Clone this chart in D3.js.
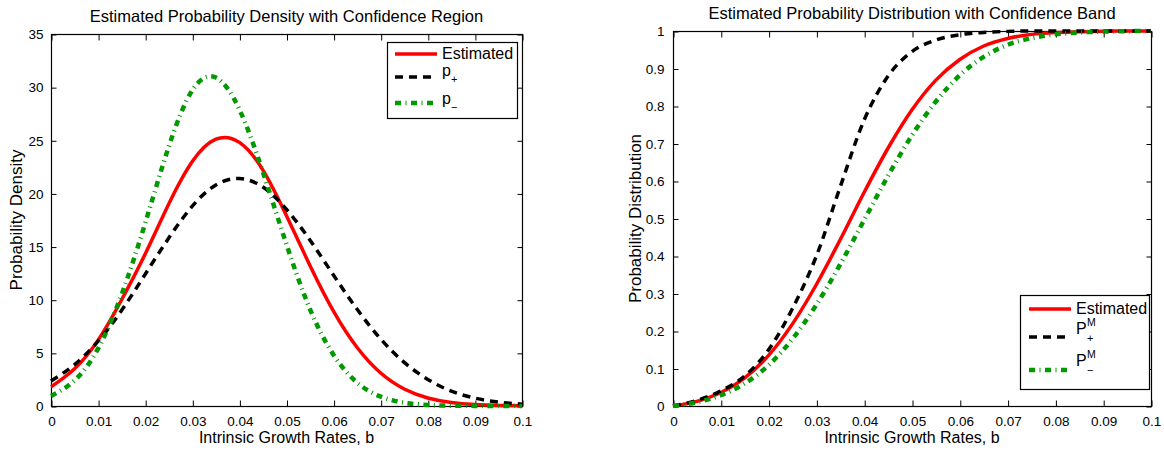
<!DOCTYPE html>
<html>
<head>
<meta charset="utf-8">
<script src="https://cdn.jsdelivr.net/npm/d3@7"></script>
<style>
  html, body { margin: 0; padding: 0; background: #fff; }
  svg { display: block; font-family: "Liberation Sans", Arial, sans-serif; }
</style>
</head>
<body>
<svg id="chart" width="1164" height="450"></svg>
<script>
// ---------- data ----------
const growthRates = [0, 0.005, 0.01, 0.015, 0.02, 0.025, 0.03, 0.035, 0.04, 0.045, 0.05,
                     0.055, 0.06, 0.065, 0.07, 0.075, 0.08, 0.085, 0.09, 0.095, 0.1];

const densityEstimated = [1.8, 3.5, 6.2, 10.0, 14.3, 19.0, 23.0, 25.1, 24.8, 22.2, 17.9,
                          13.2, 8.9, 5.5, 3.1, 1.6, 0.75, 0.32, 0.13, 0.05, 0.02];
const densityPlus      = [2.35, 3.9, 6.1, 9.0, 12.4, 15.8, 18.8, 20.8, 21.4, 20.6, 18.5,
                          15.6, 12.3, 9.1, 6.3, 4.1, 2.5, 1.4, 0.74, 0.37, 0.17];
const densityMinus     = [0.95, 2.4, 5.4, 10.5, 17.2, 24.4, 29.7, 30.9, 27.9, 22.0, 15.2,
                          9.1, 4.8, 2.2, 0.88, 0.31, 0.1, 0.03, 0.01, 0.0, 0.0];

const cdfEstimated = [0, 0.0125, 0.036, 0.075, 0.135, 0.219, 0.324, 0.444, 0.570, 0.688, 0.79,
                      0.869, 0.924, 0.96, 0.98, 0.991, 0.996, 0.998, 0.9995, 0.9999, 1];
const cdfPlus      = [0, 0.015, 0.04, 0.08, 0.15, 0.26, 0.40, 0.585, 0.763, 0.88, 0.945,
                      0.976, 0.99, 0.996, 0.999, 1, 1, 1, 1, 1, 1];
const cdfMinus     = [0, 0.01, 0.0286, 0.06, 0.109, 0.179, 0.27, 0.378, 0.496, 0.614, 0.722,
                      0.812, 0.882, 0.931, 0.963, 0.981, 0.991, 0.996, 0.9985, 0.9995, 1];

const xTicks = [0, 0.01, 0.02, 0.03, 0.04, 0.05, 0.06, 0.07, 0.08, 0.09, 0.1];
const xTickLabels = ["0", "0.01", "0.02", "0.03", "0.04", "0.05", "0.06", "0.07", "0.08", "0.09", "0.1"];
const densityTicks = [0, 5, 10, 15, 20, 25, 30, 35];
const densityTickLabels = ["0", "5", "10", "15", "20", "25", "30", "35"];
const cdfTicks = [0, 0.1, 0.2, 0.3, 0.4, 0.5, 0.6, 0.7, 0.8, 0.9, 1];
const cdfTickLabels = ["0", "0.1", "0.2", "0.3", "0.4", "0.5", "0.6", "0.7", "0.8", "0.9", "1"];

// ---------- styles ----------
const styles = {
  est:   { stroke: "#ff0000", width: 3.5, dash: null },
  plus:  { stroke: "#000000", width: 3.5, dash: "8,6" },
  minus: { stroke: "#009900", width: 4.5, dash: "6,4.5,1,4.5" }
};

const svg = d3.select("#chart");

function drawPanel(cfg) {
  const x = d3.scaleLinear().domain([0, 0.1]).range([cfg.left, cfg.right]);
  const y = d3.scaleLinear().domain([0, cfg.ymax]).range([cfg.bottom, cfg.top]);
  const g = svg.append("g");

  const clipId = "clip" + cfg.id;
  svg.append("clipPath").attr("id", clipId).append("rect")
    .attr("x", cfg.left - 3).attr("y", cfg.top - 3)
    .attr("width", cfg.right - cfg.left + 6).attr("height", cfg.bottom - cfg.top + 6);

  g.append("rect")
    .attr("x", cfg.left + 0.5).attr("y", cfg.top + 0.5)
    .attr("width", cfg.right - cfg.left).attr("height", cfg.bottom - cfg.top)
    .attr("fill", "none").attr("stroke", "#000").attr("stroke-width", 1.2);

  const xAxisB = d3.axisBottom(x).tickValues(xTicks).tickSize(-6).tickPadding(10)
    .tickFormat((d, i) => xTickLabels[i]);
  const gxb = g.append("g").attr("transform", `translate(0.5,${cfg.bottom + 0.5})`).call(xAxisB);
  const xAxisT = d3.axisTop(x).tickValues(xTicks).tickSize(-6).tickFormat("");
  const gxt = g.append("g").attr("transform", `translate(0.5,${cfg.top + 0.5})`).call(xAxisT);

  const yAxisL = d3.axisLeft(y).tickValues(cfg.yTicks).tickSize(-5).tickPadding(cfg.yPad)
    .tickFormat((d, i) => cfg.yTickLabels[i]);
  const gyl = g.append("g").attr("transform", `translate(${cfg.left + 0.5},0.5)`).call(yAxisL);
  const yAxisR = d3.axisRight(y).tickValues(cfg.yTicks).tickSize(-5).tickFormat("");
  const gyr = g.append("g").attr("transform", `translate(${cfg.right + 0.5},0.5)`).call(yAxisR);

  [gxb, gxt, gyl, gyr].forEach(a => {
    a.select(".domain").remove();
    a.selectAll("line").attr("stroke", "#000").attr("stroke-width", 1);
    a.selectAll("text").attr("fill", "#000").style("font-size", "13.5px")
      .style("font-family", "'Liberation Sans', Arial, sans-serif");
  });

  const line = d3.line()
    .x((d, i) => x(growthRates[i]))
    .y(d => y(d))
    .curve(cfg.curve);
  const lg = g.append("g").attr("clip-path", `url(#${clipId})`);
  cfg.series.forEach(s => {
    const st = styles[s.style];
    lg.append("path")
      .attr("d", line(s.values))
      .attr("fill", "none")
      .attr("stroke", st.stroke)
      .attr("stroke-width", st.width)
      .attr("stroke-dasharray", st.dash)
      .attr("stroke-linejoin", "round");
  });

  svg.append("text").attr("x", (cfg.left + cfg.right) / 2).attr("y", cfg.titleY)
    .attr("text-anchor", "middle").style("font-size", "16.5px").text(cfg.title);
  svg.append("text").attr("x", (cfg.left + cfg.right) / 2).attr("y", 443)
    .attr("text-anchor", "middle").style("font-size", "16px").text("Intrinsic Growth Rates, b");
  svg.append("text")
    .attr("transform", `translate(${cfg.yLabelX},${(cfg.top + cfg.bottom) / 2}) rotate(-90)`)
    .attr("text-anchor", "middle").style("font-size", "17px").text(cfg.yLabel);
}

function drawLegend(cfg) {
  const g = svg.append("g");
  g.append("rect").attr("x", cfg.x0 + 0.5).attr("y", cfg.y0 + 0.5)
    .attr("width", cfg.x1 - cfg.x0).attr("height", cfg.y1 - cfg.y0)
    .attr("fill", "#fff").attr("stroke", "#000").attr("stroke-width", 1.2);
  cfg.entries.forEach(e => {
    const st = styles[e.style];
    g.append("line").attr("x1", cfg.lx1).attr("x2", cfg.lx2).attr("y1", e.ly).attr("y2", e.ly)
      .attr("stroke", st.stroke).attr("stroke-width", st.width).attr("stroke-dasharray", st.dash);
    g.append("text").attr("x", cfg.tx).attr("y", e.ty).style("font-size", "16px").text(e.main);
    if (e.sup) {
      g.append("text").attr("x", cfg.tx + e.subDx).attr("y", e.ty - 8)
        .style("font-size", "10.5px").text(e.sup);
    }
    if (e.sub) {
      g.append("text").attr("x", cfg.tx + e.subDx).attr("y", e.ty + e.subDy)
        .style("font-size", "11px").text(e.sub);
    }
  });
}

drawPanel({
  id: "L", left: 51, right: 522, top: 34, bottom: 406, ymax: 35,
  yTicks: densityTicks, yTickLabels: densityTickLabels, yPad: 8,
  title: "Estimated Probability Density with Confidence Region", titleY: 22,
  yLabel: "Probability Density", yLabelX: 22,
  curve: d3.curveNatural,
  series: [
    { values: densityEstimated, style: "est" },
    { values: densityPlus, style: "plus" },
    { values: densityMinus, style: "minus" }
  ]
});

drawPanel({
  id: "R", left: 673, right: 1151, top: 31, bottom: 406, ymax: 1,
  yTicks: cdfTicks, yTickLabels: cdfTickLabels, yPad: 9,
  title: "Estimated Probability Distribution with Confidence Band", titleY: 19,
  yLabel: "Probability Distribution", yLabelX: 641,
  curve: d3.curveMonotoneX,
  series: [
    { values: cdfEstimated, style: "est" },
    { values: cdfPlus, style: "plus" },
    { values: cdfMinus, style: "minus" }
  ]
});

drawLegend({
  x0: 387, x1: 517, y0: 42, y1: 118, lx1: 395, lx2: 437, tx: 442,
  entries: [
    { style: "est", ly: 54, ty: 59, main: "Estimated" },
    { style: "plus", ly: 77, ty: 76, main: "p", sub: "+", subDx: 9, subDy: 7 },
    { style: "minus", ly: 103, ty: 104, main: "p", sub: "\u2212", subDx: 9, subDy: 7 }
  ]
});

drawLegend({
  x0: 1020, x1: 1149, y0: 295, y1: 389, lx1: 1029, lx2: 1071, tx: 1076,
  entries: [
    { style: "est", ly: 309, ty: 314, main: "Estimated" },
    { style: "plus", ly: 337, ty: 334, main: "P", sup: "M", sub: "+", subDx: 11, subDy: 8 },
    { style: "minus", ly: 370, ty: 366, main: "P", sup: "M", sub: "\u2212", subDx: 11, subDy: 8 }
  ]
});
</script>
</body>
</html>
